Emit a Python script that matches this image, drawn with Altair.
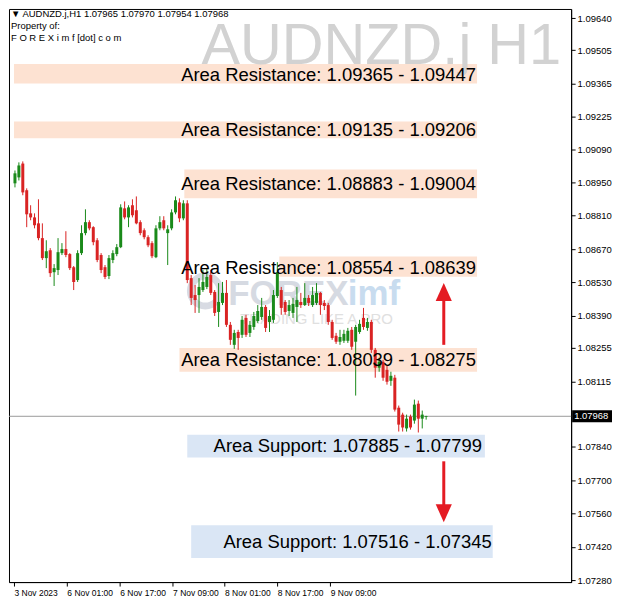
import altair as alt
import pandas as pd

# ---------------- data (H1 candles) ----------------
open_p = [1.08946,1.08971,1.09029,1.08917,1.08820,1.08803,1.08778,1.08716,1.08632,1.08665,
          1.08573,1.08582,1.08653,1.08670,1.08649,1.08594,1.08540,1.08653,1.08737,1.08783,
          1.08762,1.08707,1.08645,1.08594,1.08557,1.08624,1.08649,1.08678,1.08841,1.08803,
          1.08854,1.08833,1.08783,1.08749,1.08720,1.08695,1.08636,1.08757,1.08791,1.08737,
          1.08757,1.08824,1.08866,1.08799,1.08862,1.08548,1.08477,1.08477,1.08498,1.08511,
          1.08561,1.08490,1.08406,1.08444,1.08486,1.08352,1.08268,1.08322,1.08310,1.08381,
          1.08318,1.08343,1.08368,1.08385,1.08427,1.08364,1.08373,1.08473,1.08498,1.08448,
          1.08410,1.08402,1.08427,1.08448,1.08435,1.08465,1.08435,1.08444,1.08486,1.08444,
          1.08435,1.08364,1.08306,1.08281,1.08285,1.08285,1.08331,1.08281,1.08322,1.08381,
          1.08339,1.08364,1.08247,1.08172,1.08197,1.08163,1.08117,1.08130,1.08004,1.07975,
          1.07917,1.07967,1.07950,1.08021,1.07958,1.07965]
high_p = [1.09000,1.09034,1.09038,1.08925,1.08854,1.08820,1.08879,1.08778,1.08707,1.08674,
          1.08607,1.08716,1.08695,1.08745,1.08653,1.08599,1.08665,1.08770,1.08837,1.08791,
          1.08766,1.08716,1.08653,1.08603,1.08645,1.08665,1.08691,1.08858,1.08870,1.08854,
          1.08879,1.08891,1.08791,1.08757,1.08728,1.08703,1.08770,1.08808,1.08808,1.08770,
          1.08837,1.08891,1.08883,1.08875,1.08875,1.08561,1.08519,1.08548,1.08582,1.08590,
          1.08582,1.08498,1.08527,1.08532,1.08540,1.08364,1.08331,1.08331,1.08389,1.08394,
          1.08368,1.08406,1.08435,1.08465,1.08435,1.08414,1.08498,1.08615,1.08511,1.08456,
          1.08456,1.08465,1.08511,1.08486,1.08527,1.08477,1.08511,1.08527,1.08490,1.08456,
          1.08444,1.08373,1.08318,1.08331,1.08331,1.08339,1.08343,1.08352,1.08373,1.08423,
          1.08381,1.08373,1.08255,1.08214,1.08205,1.08180,1.08155,1.08142,1.08013,1.07983,
          1.07975,1.07975,1.08038,1.08034,1.07992,1.07970]
low_p = [1.08929,1.08958,1.08896,1.08762,1.08791,1.08757,1.08707,1.08624,1.08590,1.08553,
         1.08515,1.08561,1.08645,1.08636,1.08582,1.08498,1.08532,1.08645,1.08728,1.08749,
         1.08686,1.08615,1.08569,1.08544,1.08544,1.08611,1.08640,1.08674,1.08795,1.08762,
         1.08803,1.08774,1.08728,1.08711,1.08678,1.08632,1.08632,1.08749,1.08749,1.08603,
         1.08749,1.08816,1.08783,1.08791,1.08527,1.08435,1.08402,1.08402,1.08490,1.08502,
         1.08477,1.08389,1.08343,1.08435,1.08343,1.08268,1.08251,1.08247,1.08297,1.08301,
         1.08301,1.08331,1.08360,1.08373,1.08322,1.08322,1.08360,1.08465,1.08394,1.08394,
         1.08389,1.08381,1.08364,1.08423,1.08431,1.08431,1.08427,1.08435,1.08394,1.08414,
         1.08352,1.08289,1.08272,1.08268,1.08276,1.08276,1.08247,1.08055,1.08314,1.08331,
         1.08327,1.08234,1.08130,1.08155,1.08117,1.08101,1.08096,1.07988,1.07904,1.07904,
         1.07904,1.07912,1.07937,1.07900,1.07917,1.07954]
close_p = [1.08988,1.09021,1.08908,1.08816,1.08803,1.08770,1.08716,1.08632,1.08661,1.08569,
           1.08590,1.08657,1.08670,1.08645,1.08590,1.08532,1.08653,1.08737,1.08783,1.08757,
           1.08699,1.08624,1.08582,1.08553,1.08632,1.08653,1.08678,1.08845,1.08803,1.08845,
           1.08812,1.08778,1.08737,1.08720,1.08686,1.08640,1.08757,1.08783,1.08757,1.08753,
           1.08824,1.08875,1.08799,1.08862,1.08540,1.08465,1.08456,1.08511,1.08532,1.08553,
           1.08486,1.08402,1.08448,1.08486,1.08352,1.08289,1.08318,1.08297,1.08373,1.08310,
           1.08352,1.08389,1.08410,1.08427,1.08339,1.08389,1.08477,1.08573,1.08423,1.08406,
           1.08435,1.08440,1.08456,1.08435,1.08465,1.08444,1.08477,1.08486,1.08435,1.08431,
           1.08364,1.08297,1.08281,1.08301,1.08314,1.08327,1.08260,1.08343,1.08356,1.08343,
           1.08364,1.08247,1.08172,1.08197,1.08130,1.08113,1.08138,1.07996,1.07933,1.07921,
           1.07958,1.07921,1.08017,1.07958,1.07975,1.07968]

y_ticks = [1.09640, 1.09505, 1.09365, 1.09225, 1.09090, 1.08950, 1.08810, 1.08670,
           1.08530, 1.08390, 1.08255, 1.08115, 1.07840, 1.07700, 1.07560, 1.07420, 1.07280]
x_tick_pos = [-0.25, 13.25, 26.75, 40.25, 53.5, 67.0, 80.5]
x_tick_labels = ["3 Nov 2023", "6 Nov 01:00", "6 Nov 17:00", "7 Nov 09:00",
                 "8 Nov 01:00", "8 Nov 17:00", "9 Nov 09:00"]

last_price = 1.07968
header_lines = ["\u25bc  AUDNZD.j,H1  1.07965 1.07970 1.07954 1.07968",
                "Property of:",
                "F O R E X i m f [dot] c o m"]
watermark = "AUDNZD.j H1"

zone_kind = ["res", "res", "res", "res", "res", "sup", "sup"]
zone_start = [-0.25, -0.25, 43.25, 67.5, 42.0, 44.0, 45.0]
zone_end = [118.0, 118.0, 118.0, 118.0, 118.0, 120.0, 122.0]
zone_top = [1.09447, 1.09206, 1.09004, 1.08639, 1.08255, 1.07891, 1.07511]
zone_bottom = [1.09365, 1.09135, 1.08883, 1.08554, 1.08155, 1.07795, 1.07373]
zone_text = ["Area Resistance: 1.09365 - 1.09447",
             "Area Resistance: 1.09135 - 1.09206",
             "Area Resistance: 1.08883 - 1.09004",
             "Area Resistance: 1.08554 - 1.08639",
             "Area Resistance: 1.08039 - 1.08275",
             "Area Support: 1.07885 - 1.07799",
             "Area Support: 1.07516 - 1.07345"]
text_x = [117.75, 117.75, 117.75, 117.75, 117.75, 119.25, 121.75]
text_y = [1.09402, 1.09168, 1.08942, 1.08590, 1.08205, 1.07845, 1.07439]

arrow_dir = ["up", "down"]
arrow_x = [109.5, 109.5]
arrow_from = [1.08268, 1.07779]
arrow_to = [1.08465, 1.07586]
arrow_head = [1.08490, 1.07561]

# ---------------- styles ----------------
GREEN = "#1a8a1a"
RED = "#d92323"
ARROW = "#e41b23"
FONT = "Liberation Sans"
zone_colors = {"res": "#fde2d2", "sup": "#dae6f5"}

df = pd.DataFrame({"i": list(range(len(open_p))), "o": open_p, "h": high_p,
                   "l": low_p, "c": close_p})
df["col"] = [GREEN if c >= o else RED for o, c in zip(df["o"], df["c"])]

zones = pd.DataFrame({"kind": zone_kind, "x0": zone_start, "x1": zone_end,
                      "top": zone_top, "bot": zone_bottom})
zones["col"] = zones["kind"].map(zone_colors)
labels = pd.DataFrame({"t": zone_text, "x": text_x, "y": text_y})
arrows = pd.DataFrame({"dir": arrow_dir, "x": arrow_x, "y0": arrow_from,
                       "y1": arrow_to, "yh": arrow_head})

xs = alt.Scale(domain=[-0.25, 140.75], nice=False, zero=False)
ys = alt.Scale(domain=[1.07272, 1.09678], nice=False, zero=False)

label_expr = "[" + ",".join("'%s'" % s for s in x_tick_labels) + "][indexof([" + \
             ",".join(str(v) for v in x_tick_pos) + "], datum.value)]"

x_axis = alt.Axis(orient="bottom", values=x_tick_pos, labelExpr=label_expr,
                  labelAlign="left", labelFlush=False, labelOverlap=False,
                  tickSize=4, tickColor="black", domainColor="black",
                  labelColor="black", labelFont=FONT, labelFontSize=8.5,
                  labelPadding=2, grid=False, title=None)
y_axis = alt.Axis(orient="right", values=y_ticks, format=".5f", grid=False,
                  tickSize=4, tickColor="black", domainColor="black",
                  labelColor="black", labelFont=FONT, labelFontSize=9.5,
                  labelPadding=2, labelOverlap=False, title=None)


def X(field):
    return alt.X(field, scale=xs, axis=x_axis)


def Y(field):
    return alt.Y(field, scale=ys, axis=y_axis)


def fixed_text(txt, x, y, **kw):
    return alt.Chart(pd.DataFrame({"t": [txt]})).mark_text(font=FONT, **kw).encode(
        x=alt.value(x), y=alt.value(y), text="t:N")


zone_layer = alt.Chart(zones).mark_rect().encode(
    x=X("x0:Q"), x2="x1:Q", y=Y("top:Q"), y2="bot:Q",
    fill=alt.Fill("col:N", scale=None))

logo_ring = alt.Chart(pd.DataFrame({"a": [0]})).mark_point(
    shape="circle", filled=False, size=900, strokeWidth=7, color="#d8dbe3", opacity=1
).encode(x=alt.value(197), y=alt.value(283))
logo_a = fixed_text("FOREX", 220, 297, align="left", baseline="alphabetic",
                    fontSize=35, fontWeight="bold", color="#d6dae2")
logo_b = fixed_text("imf", 340, 297, align="left", baseline="alphabetic",
                    fontSize=35, fontWeight="bold", color="#c8dcef")
logo_c = fixed_text("TRADING LIKE A PRO", 232, 311, align="left", baseline="middle",
                    fontSize=15, color="#e0e0e0")

wm = fixed_text(watermark, 554, 55, align="right", baseline="alphabetic",
                fontSize=58, color="#d2d2d2")

price_line = alt.Chart(pd.DataFrame({"p": [last_price]})).mark_rule(
    color="#9a9a9a", strokeWidth=1).encode(y=Y("p:Q"))

wicks = alt.Chart(df).mark_rule(strokeWidth=1).encode(
    x=X("i:Q"), y=Y("l:Q"), y2="h:Q", color=alt.Color("col:N", scale=None))
bodies = alt.Chart(df).mark_bar(size=3).encode(
    x=X("i:Q"), y=Y("o:Q"), y2="c:Q", color=alt.Color("col:N", scale=None))

zone_labels = alt.Chart(labels).mark_text(
    align="right", baseline="middle", font=FONT, fontSize=18.5, color="black").encode(
    x=X("x:Q"), y=Y("y:Q"), text="t:N")

shafts = alt.Chart(arrows).mark_rule(strokeWidth=3, color=ARROW).encode(
    x=X("x:Q"), y=Y("y0:Q"), y2="y1:Q")
heads = alt.Chart(arrows).mark_point(filled=True, size=324, opacity=1,
                                     strokeWidth=0, color=ARROW).encode(
    x=X("x:Q"), y=Y("yh:Q"),
    shape=alt.Shape("dir:N", scale=alt.Scale(
        domain=["up", "down"],
        range=["M0,-1L0.9,1L-0.9,1Z", "M0,1L0.9,-1L-0.9,-1Z"]), legend=None))

hdr = [fixed_text(t, 2, r, align="left", baseline="middle", fontSize=9.5, color="black")
       for t, r in zip(header_lines, [5, 17, 29])]

price_box = alt.Chart(pd.DataFrame({"p": [last_price]})).transform_calculate(
    top="datum.p + 0.00025", bot="datum.p - 0.00025").mark_rect(color="black").encode(
    x=alt.value(565), x2=alt.value(605), y=Y("top:Q"), y2="bot:Q")
price_txt = alt.Chart(pd.DataFrame({"p": [last_price]})).mark_text(
    align="left", baseline="middle", font=FONT, fontSize=9.5, color="white").encode(
    x=alt.value(567), y=Y("p:Q"), text=alt.Text("p:Q", format=".5f"))

chart = alt.layer(
    zone_layer, logo_ring, logo_a, logo_b, logo_c, wm, price_line, wicks, bodies,
    zone_labels, shafts, heads, *hdr, price_box, price_txt
).properties(
    width=564, height=575, padding={"left": 0, "top": 0, "right": 0, "bottom": 0},
    background="white"
).configure_view(stroke="black", strokeWidth=1)

chart.save("out.html", embed_options={"renderer": "svg", "actions": False})
